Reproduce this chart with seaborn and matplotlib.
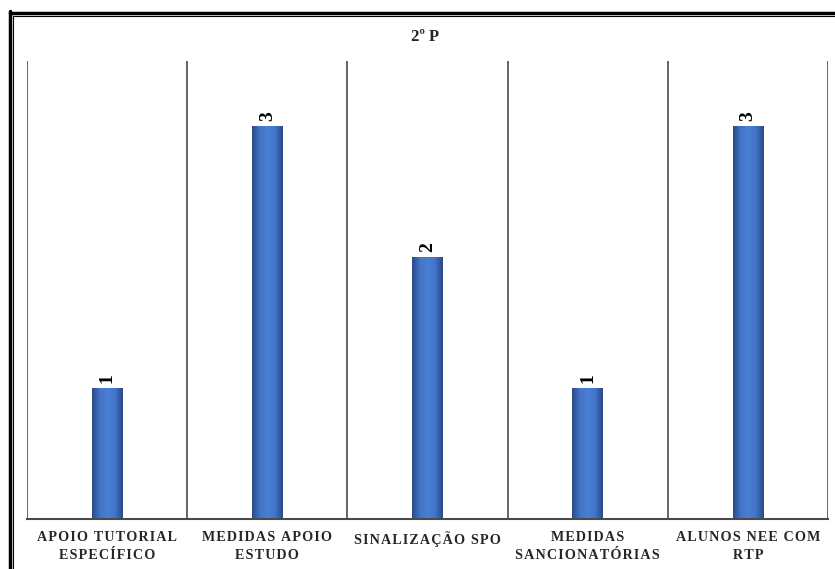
import matplotlib
matplotlib.use("Agg")
import matplotlib.pyplot as plt
import seaborn as sns
import numpy as np
import pandas as pd
from matplotlib.lines import Line2D
from matplotlib.colors import LinearSegmentedColormap

categories = ["APOIO TUTORIAL\nESPECÍFICO", "MEDIDAS APOIO\nESTUDO", "SINALIZAÇÃO SPO",
              "MEDIDAS\nSANCIONATÓRIAS", "ALUNOS NEE COM\nRTP"]
values = [1, 3, 2, 1, 3]
title = "2º P"

df = pd.DataFrame({"cat": categories, "val": values})

sns.set_theme(style="white")
plt.rcParams["font.family"] = ["Liberation Serif", "DejaVu Serif", "DejaVu Sans"]

fig = plt.figure(figsize=(8.35, 5.69), dpi=100)
ax = fig.add_axes([0.0323, 0.0879, 0.9593, 0.8049])

sns.barplot(data=df, x="cat", y="val", color="#4472C4", width=0.19, ax=ax,
            saturation=1, edgecolor="none")

cmap = LinearSegmentedColormap.from_list("g", ["#2a4885", "#4274c6", "#4b7fd5", "#4274c6", "#2a4885"])
grad = np.linspace(0, 1, 256).reshape(1, -1)
for p in ax.patches:
    x0, y0 = p.get_x(), p.get_y()
    w, h = p.get_width(), p.get_height()
    im = ax.imshow(grad, cmap=cmap, extent=[x0, x0 + w, y0, y0 + h], aspect="auto", zorder=p.get_zorder() + 0.1)
    im.set_clip_path(p)
    ax.text(x0 + w / 2, y0 + h + 0.04, f"{int(h)}", rotation=90, ha="center", va="bottom",
            fontsize=14, fontweight="bold", color="black")

ax.set_xlim(-0.5, 4.5)
ax.set_ylim(0, 3.5)
for b in np.arange(-0.5, 5.0, 1.0):
    ax.axvline(b, color="#4a4a4a", lw=1.2, zorder=0)

for s in ["top", "right", "left"]:
    ax.spines[s].set_visible(False)
ax.spines["bottom"].set_color("#4a4a4a")
ax.spines["bottom"].set_linewidth(1.5)
ax.set_yticks([])
ax.set_xlabel("")
ax.set_ylabel("")
ax.tick_params(axis="x", length=0, pad=9)


def spaced(s):
    return "\n".join("\u200a".join(line) for line in s.split("\n"))


ax.set_xticks(range(len(categories)))
ax.set_xticklabels([spaced(c) for c in categories], fontsize=10.2, fontweight="bold",
                   linespacing=1.45)

fig.text(0.509, 0.935, title, ha="center", va="center", fontsize=12, fontweight="bold")

# double border left/top
fig.add_artist(Line2D([0.0114, 0.0114], [0, 0.981], transform=fig.transFigure, color="black", lw=2.5))
fig.add_artist(Line2D([0.0114, 1.0], [0.978, 0.978], transform=fig.transFigure, color="black", lw=2.5))
fig.add_artist(Line2D([0.0156, 0.0156], [0, 0.972], transform=fig.transFigure, color="black", lw=0.8))
fig.add_artist(Line2D([0.0156, 1.0], [0.9715, 0.9715], transform=fig.transFigure, color="black", lw=0.8))

fig.savefig("out.png", dpi=100)
